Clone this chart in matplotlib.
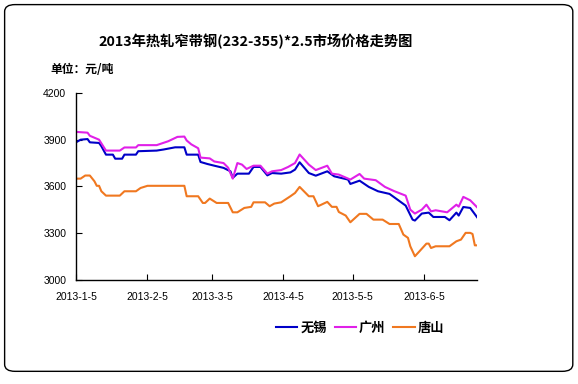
import matplotlib
matplotlib.use('Agg')
import matplotlib.pyplot as plt
from matplotlib.patches import FancyBboxPatch
import pandas as pd

plt.rcParams['font.family'] = ['Noto Sans CJK SC', 'DejaVu Sans']

TITLE = '2013年热轧窄带钢(232-355)*2.5市场价格走势图'
UNIT = '单位：元/吨'

WUXI_DATES = ['01-05', '01-07', '01-10', '01-11', '01-15', '01-16', '01-18', '01-21', '01-22',
              '01-25', '01-26', '01-31', '02-01', '02-09', '02-12', '02-17', '02-21', '02-22',
              '02-27', '02-28', '03-03', '03-06', '03-10', '03-13', '03-14', '03-16', '03-21',
              '03-23', '03-26', '03-29', '03-31', '04-04', '04-08', '04-10', '04-12', '04-16',
              '04-19', '04-24', '04-27', '05-03', '05-04', '05-08', '05-12', '05-16', '05-21',
              '05-24', '05-28', '05-31', '06-01', '06-04', '06-07', '06-09', '06-14', '06-16',
              '06-19', '06-20', '06-22', '06-25', '06-28']
WUXI = [3883, 3900, 3904, 3883, 3879, 3858, 3804, 3804, 3778,
        3778, 3804, 3804, 3826, 3830, 3837, 3851, 3851, 3804,
        3804, 3757, 3744, 3733, 3719, 3697, 3655, 3682, 3682,
        3725, 3725, 3671, 3686, 3682, 3690, 3708, 3755, 3686,
        3669, 3697, 3665, 3644, 3616, 3637, 3597, 3569, 3552,
        3520, 3477, 3387, 3381, 3426, 3432, 3404, 3404, 3383,
        3432, 3413, 3468, 3462, 3402]

GZ_DATES = ['01-05', '01-10', '01-11', '01-15', '01-18', '01-24', '01-26', '01-31', '02-01',
            '02-09', '02-14', '02-18', '02-21', '02-22', '02-24', '02-27', '02-28', '03-04',
            '03-06', '03-10', '03-12', '03-14', '03-16', '03-18', '03-20', '03-23', '03-26',
            '03-29', '03-31', '04-04', '04-07', '04-10', '04-12', '04-16', '04-19', '04-24',
            '04-26', '04-29', '05-04', '05-08', '05-10', '05-15', '05-19', '05-23', '05-28',
            '05-30', '06-01', '06-04', '06-06', '06-08', '06-10', '06-15', '06-19', '06-20',
            '06-22', '06-25', '06-28']
GUANGZHOU = [3950, 3945, 3925, 3900, 3830, 3830, 3850, 3850, 3865,
             3865, 3890, 3918, 3920, 3895, 3870, 3845, 3785, 3780,
             3760, 3750, 3720, 3650, 3750, 3740, 3712, 3733, 3733,
             3682, 3697, 3705, 3725, 3750, 3805, 3740, 3705, 3733,
             3682, 3676, 3644, 3680, 3650, 3640, 3597, 3570, 3541,
             3451, 3426, 3451, 3483, 3440, 3447, 3434, 3483, 3470,
             3533, 3511, 3466]

TS_DATES = ['01-05', '01-07', '01-09', '01-11', '01-13', '01-14', '01-15', '01-16', '01-18',
            '01-24', '01-26', '01-31', '02-02', '02-05', '02-21', '02-22', '02-27', '03-01',
            '03-02', '03-04', '03-07', '03-12', '03-14', '03-16', '03-19', '03-22', '03-23',
            '03-28', '03-30', '04-01', '04-04', '04-08', '04-10', '04-12', '04-16', '04-18',
            '04-20', '04-24', '04-26', '04-28', '04-29', '05-02', '05-04', '05-08', '05-11',
            '05-14', '05-18', '05-21', '05-25', '05-27', '05-29', '05-30', '06-01', '06-03',
            '06-06', '06-07', '06-08', '06-10', '06-16', '06-19', '06-21', '06-23', '06-25',
            '06-26', '06-27', '06-28']
TANGSHAN = [3650, 3650, 3670, 3670, 3633, 3604, 3604, 3569, 3541,
            3541, 3569, 3569, 3590, 3604, 3604, 3537, 3537, 3494,
            3494, 3522, 3494, 3494, 3434, 3434, 3462, 3469, 3498,
            3498, 3473, 3490, 3498, 3537, 3558, 3597, 3537, 3537,
            3473, 3501, 3469, 3469, 3436, 3413, 3370, 3424, 3424,
            3387, 3387, 3359, 3359, 3291, 3270, 3216, 3152, 3184,
            3233, 3233, 3205, 3216, 3216, 3248, 3259, 3302, 3302,
            3295, 3222, 3222]

TICK_DATES = ['01-05', '02-05', '03-05', '04-05', '05-05', '06-05']


def to_dates(md):
    return pd.to_datetime(['2013-' + s for s in md])


fig = plt.figure(figsize=(5.78, 3.84), dpi=100)
fig.patch.set_facecolor('white')

border = FancyBboxPatch((0.008, 0.033), 0.983, 0.955, boxstyle='round,pad=0,rounding_size=0.018',
                        transform=fig.transFigure, facecolor='white', edgecolor='black',
                        linewidth=1.0, zorder=-1)
fig.patches.append(border)

ax = fig.add_axes([0.1315, 0.271, 0.694, 0.487])
ax.plot(to_dates(WUXI_DATES), WUXI, color='#0000C8', lw=1.5, label='无锡')
ax.plot(to_dates(GZ_DATES), GUANGZHOU, color='#E020E8', lw=1.5, label='广州')
ax.plot(to_dates(TS_DATES), TANGSHAN, color='#F07820', lw=1.5, label='唐山')

ax.set_xlim(pd.Timestamp('2013-01-05'), pd.Timestamp('2013-06-28'))
ax.set_ylim(3000, 4200)
ax.set_yticks([3000, 3300, 3600, 3900, 4200])
ticks = to_dates(TICK_DATES)
ax.set_xticks(ticks)
ax.set_xticklabels(['2013-%d-5' % d.month for d in ticks])

for side in ['top', 'right']:
    ax.spines[side].set_visible(False)
for side in ['left', 'bottom']:
    ax.spines[side].set_linewidth(1.0)
ax.tick_params(axis='both', direction='in', length=4, width=0.8, labelsize=7.5)
ax.tick_params(axis='x', pad=9)
ax.tick_params(axis='y', pad=7)
for lab in ax.get_xticklabels() + ax.get_yticklabels():
    lab.set_family('Liberation Sans')

fig.text(0.442, 0.893, TITLE, ha='center', va='center', fontsize=10.3, fontweight='bold')
fig.text(0.087, 0.818, UNIT, ha='left', va='center', fontsize=8.5, fontweight='bold')

fig.legend(loc='center', bbox_to_anchor=(0.623, 0.146), ncol=3, frameon=False,
           handlelength=1.6, handletextpad=0.25, columnspacing=0.6,
           prop={'size': 9.5, 'weight': 'bold'})

fig.savefig('out.png', dpi=100)
